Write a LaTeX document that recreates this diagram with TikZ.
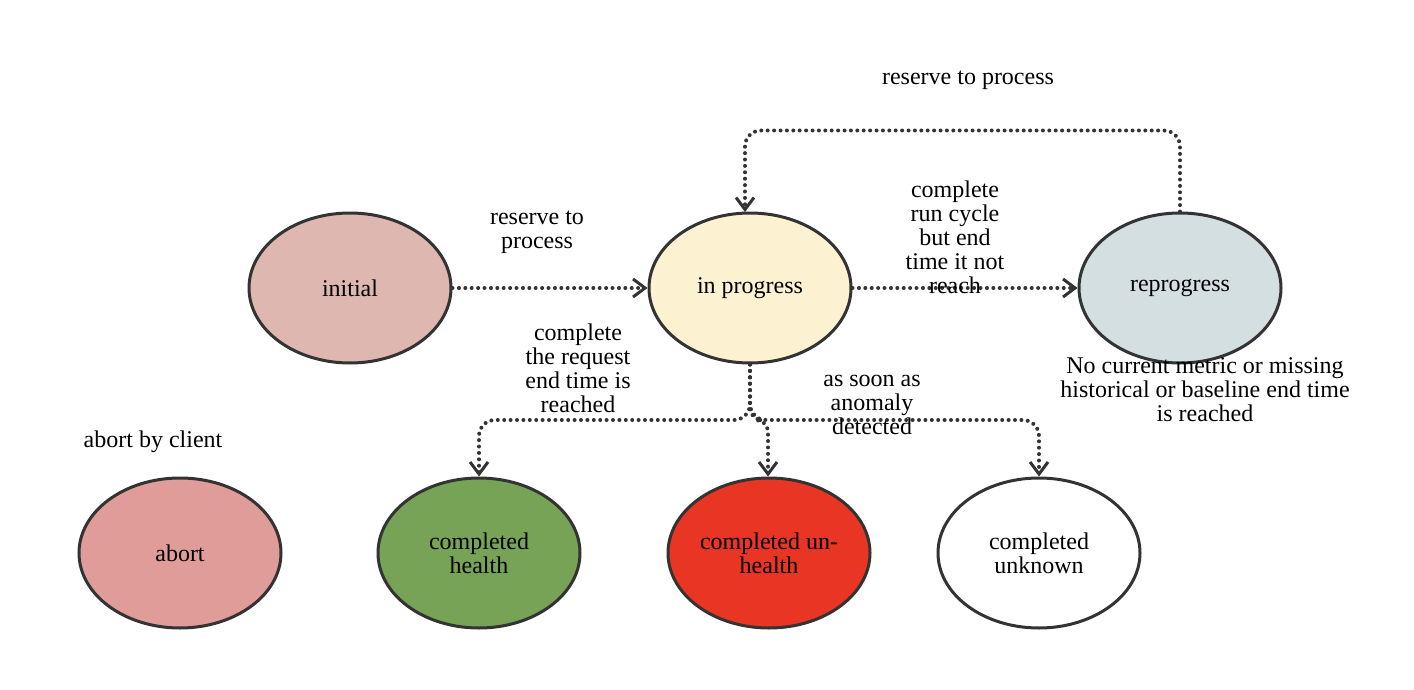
\documentclass[tikz,border=0pt]{standalone}
\usepackage{fontspec}
\setmainfont{Liberation Serif}
\usetikzlibrary{shapes.geometric,arrows.meta}
\definecolor{ln}{HTML}{333333}
\definecolor{cinit}{HTML}{DEB8B0}
\definecolor{cprog}{HTML}{FCF1D0}
\definecolor{creprog}{HTML}{D3DFE1}
\definecolor{cabort}{HTML}{DF9C99}
\definecolor{chealth}{HTML}{77A356}
\definecolor{cunhealth}{HTML}{E93523}
\tikzset{
  state/.style={ellipse, draw=ln, line width=1.5pt, minimum width=101pt, minimum height=75pt, inner sep=0pt, align=center, font=\fontsize{12}{12}\selectfont},
  edge/.style={draw=ln, line width=2pt, line cap=round, dash pattern=on 0pt off 3.2pt, -{Straight Barb[length=6pt,width=9pt,line width=1.5pt]}},
  lbl/.style={align=center, font=\fontsize{12}{12}\selectfont, inner sep=0pt}
}
\begin{document}
\begin{tikzpicture}[x=0.5pt,y=-0.5pt]
\useasboundingbox (0,0) rectangle (1414,690);
\node[state, fill=cinit] (init) at (350,288) {initial};
\node[state, fill=cprog] (ip) at (750,288) {in progress};
\node[state, fill=creprog] (rp) at (1180,288) {reprogress};
\node[state, fill=cabort] (ab) at (180,553) {abort};
\node[state, fill=chealth] (h) at (479,553) {completed\\health};
\node[state, fill=cunhealth] (uh) at (769,553) {completed un-\\health};
\node[state, fill=white] (uk) at (1039,553) {completed\\unknown};

\coordinate (j) at (750,420);
\coordinate (top) at (745,212);

\draw[edge] (init) -- (ip);
\draw[edge] (ip) -- (rp);
\draw[edge, rounded corners=8pt] (rp.north) -- ++(0,-81) -| (top);
\draw[edge, rounded corners=8pt] (ip.south) -- (j) -| (h.north);
\draw[edge, rounded corners=6pt] (ip.south) -- (j) -| (uh.north -| 768,0);
\draw[edge, rounded corners=8pt] (ip.south) -- (j) -| (uk.north);

\node[lbl] (l1) at (537,232) {reserve to\\process};
\node[lbl] (l2) at (968,80) {reserve to process};
\node[lbl] (l3) at (955,237) {complete\\run cycle\\but end\\time it not\\reach};
\node[lbl] (l4) at (578,368) {complete\\the request\\end time is\\reached};
\node[lbl] (l5) at (872,405) {as soon as\\anomaly\\detected};
\node[lbl] (l6) at (1205,390) {No current metric or missing\\historical or baseline end time\\is reached};
\node[lbl] (l7) at (153,442) {abort by client};
\end{tikzpicture}
\end{document}
